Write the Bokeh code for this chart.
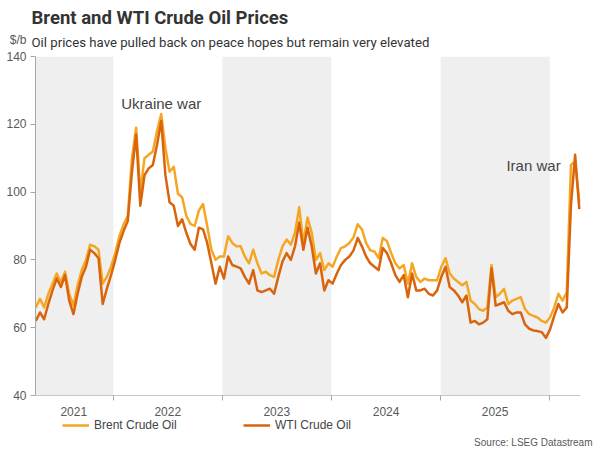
import pandas as pd
from bokeh.plotting import figure
from bokeh.models import (Range1d, FixedTicker, CustomJSTickFormatter, BoxAnnotation,
                          Label, Legend, LegendItem, Title)
from bokeh.embed import file_html
from bokeh.resources import INLINE

title_text = "Brent and WTI Crude Oil Prices"
subtitle_text = "Oil prices have pulled back on peace hopes but remain very elevated"
unit_text = "$/b"
source_text = "Source: LSEG Datastream"
series_names = ["Brent Crude Oil", "WTI Crude Oil"]

# fortnightly readings, starting mid-April 2021
brent = [66, 68.5, 66, 70, 73, 76, 73.5, 76.5, 70, 66.5,
         72.5, 77, 80, 84.5, 84, 83, 73, 75, 78, 82,
         87, 90.5, 93, 110, 119, 100, 110, 111, 112, 118,
         123, 113, 106, 107.5, 99.5, 98.5, 93, 90.6, 90, 94.5,
         96.5, 90, 83, 80, 81, 81, 87, 85, 84, 84,
         81, 79, 83, 79, 76, 76.5, 75.5, 75, 80, 84,
         86, 84.5, 88, 95.5, 85, 92.5, 88, 80, 82, 77,
         79, 78, 81, 83.5, 84, 85, 86.7, 90.5, 89, 85,
         82.8, 82.5, 80.5, 86.5, 85.5, 82, 79, 77.5, 78.5, 73,
         79, 75, 73.5, 74.5, 74, 74, 74, 78, 80.5, 76,
         74.5, 73.5, 72.5, 73.5, 68, 67, 65.5, 65, 66, 78.5,
         69, 70, 71.5, 67, 68, 68.5, 69, 65.5, 64, 63.5,
         63, 62, 61.5, 63, 66, 70, 68, 70.5, 108, 109,
         97]
wti = [62, 64.5, 62.5, 67, 71, 74.5, 72, 75.5, 68, 64,
       70, 75, 78, 83, 82, 80.5, 67, 71.5, 75.5, 80,
       85, 88.5, 91.5, 106, 117, 96, 105, 107, 108, 114,
       121, 105, 97, 96, 90, 92, 88, 84.7, 83, 89.5,
       89, 85, 79, 73, 78, 74.5, 81, 78.5, 78, 77.5,
       75, 73, 77, 71, 70.5, 71, 71.5, 70, 75, 79.5,
       82, 80, 84, 91, 83, 89.5, 84, 76, 79, 71,
       74, 73, 76, 78.5, 80, 81, 82.8, 86.5, 84, 81,
       79, 78, 77, 83.5, 82, 79, 75.5, 73.5, 75.5, 69,
       76, 71, 71, 71.5, 70, 69.5, 71, 75, 78, 72,
       71, 69.5, 67.5, 69.5, 61.5, 62, 61, 61.5, 62.5, 77.5,
       66.5, 67, 67.5, 65, 64, 64.5, 64.5, 61, 59.7, 59.2,
       59, 58.7, 57, 59.5, 63.5, 67, 64.5, 66, 96, 111,
       95]
dates = pd.date_range("2021-04-16", periods=len(brent), freq="14D")

y_ticks = [40, 60, 80, 100, 120, 140]
year_label_dates = ["2021-08-21", "2022-07-02", "2023-07-02", "2024-07-02", "2025-07-02"]
year_bounds = ["2022-01-01", "2023-01-01", "2024-01-01", "2025-01-01", "2026-01-01"]
shaded_years = [("2021-04-15", "2022-01-01"), ("2023-01-01", "2024-01-01"), ("2025-01-01", "2026-01-01")]
events = [("Ukraine war", "2022-01-27", 126.1), ("Iran war", "2025-08-09", 107.9)]


def ms(s):
    return pd.Timestamp(s).value / 1e6


# ---- page geometry (pixels) ----
W, H = 600, 449
LEFT, TOP = 35, 56            # left edge of the time axis, top of the value axis
AXIS_RIGHT = 580               # right end of the time axis
AXIS_Y = 395                   # pixel row of the value 40 line
Y_LO, Y_HI = 40, 140
x0, x1 = ms("2021-04-15"), ms("2026-04-14")

ppu = (AXIS_Y - TOP) / (Y_HI - Y_LO)            # pixels per $
msp = (x1 - x0) / (AXIS_RIGHT - LEFT)           # ms per pixel
y_start = Y_LO - (H - AXIS_Y) / ppu            # frame runs to the canvas bottom
x_end = x1 + (W - AXIS_RIGHT) * msp           # and to the canvas right edge


def px_x(px):
    return x0 + (px - LEFT) * msp


def px_y(py):
    return Y_HI - (py - TOP) / ppu


FONT = "Liberation Sans"
GREY = "#595959"

p = figure(width=W, height=H, x_axis_type="datetime",
           x_range=Range1d(x0, x_end), y_range=Range1d(y_start, Y_HI),
           output_backend="svg", toolbar_location=None, title=None,
           min_border_left=LEFT, min_border_right=0, min_border_top=TOP, min_border_bottom=0)
p.outline_line_color = None
p.xgrid.visible = False
p.ygrid.visible = False

bands = [BoxAnnotation(left=ms(a), right=ms(b), bottom=Y_LO, top=Y_HI, fill_color="#efefef",
                       fill_alpha=1.0, line_color=None, level="underlay") for a, b in shaded_years]
p.center = bands + list(p.center)

r_b = p.line(dates, brent, line_color="#F5A623", line_width=2.5, line_join="round")
r_w = p.line(dates, wti, line_color="#D9640C", line_width=2.5, line_join="round")

yax = p.yaxis[0]
yax.ticker = FixedTicker(ticks=y_ticks)
yax.bounds = (Y_LO, Y_HI)
yax.formatter = CustomJSTickFormatter(
    args=dict(unit=unit_text, top=max(y_ticks)),
    code="return tick == top ? unit + '\\n' + String(tick) + '\\n' : String(tick);")
yax.axis_line_color = "#a6a6a6"
yax.major_tick_line_color = "#a6a6a6"
yax.major_tick_out = 5
yax.major_tick_in = 0
yax.minor_tick_out = 0
yax.minor_tick_in = 0
yax.major_label_standoff = 4
yax.major_label_text_font = FONT
yax.major_label_text_font_size = "12px"
yax.major_label_text_color = GREY

xax = p.xaxis[0]
xax.fixed_location = Y_LO
xax.bounds = (x0, x1)
xax.ticker = FixedTicker(ticks=[ms(d) for d in year_label_dates],
                         minor_ticks=[ms(d) for d in year_bounds])
xax.formatter = CustomJSTickFormatter(code="return String(new Date(tick).getUTCFullYear());")
xax.major_tick_out = 0
xax.major_tick_in = 0
xax.minor_tick_out = 5
xax.minor_tick_in = 0
xax.minor_tick_line_color = "#a6a6a6"
xax.axis_line_color = "#c8c8c8"
xax.major_label_standoff = 6
xax.major_label_text_font = FONT
xax.major_label_text_font_size = "12px"
xax.major_label_text_color = GREY

legend = Legend(items=[LegendItem(label=series_names[0], renderers=[r_b]),
                       LegendItem(label=series_names[1], renderers=[r_w])],
                orientation="horizontal", location=(27, H - 432), padding=0, margin=0, spacing=0,
                glyph_width=27, glyph_height=14, label_height=14, label_width=149,
                label_standoff=5, label_text_font=FONT, label_text_font_size="12px",
                label_text_color="#444444", background_fill_alpha=0, border_line_color=None)
p.add_layout(legend)

p.add_layout(Label(x=px_x(592), y=px_y(442), text=source_text, text_font=FONT,
                   text_font_size="10px", text_color=GREY,
                   text_baseline="alphabetic", text_align="right"))

# header rows (stacked outward from the frame)
sub = Title(text=subtitle_text, align="left", offset=-4, standoff=14, text_font="Roboto",
            text_font_size="13.2px", text_font_style="normal", text_color="#333333")
ttl = Title(text=title_text, align="left", offset=-4, standoff=-6, text_font="Roboto",
            text_font_size="18.5px", text_font_style="bold", text_color="#333333")
p.add_layout(sub, "above")
p.add_layout(ttl, "above")

for txt, d, yv in events:
    p.add_layout(Label(x=ms(d), y=yv, text=txt, text_font=FONT, text_font_size="15px",
                       text_color="#444444", text_baseline="alphabetic", text_align="left"))

open("out.html", "w").write(file_html(p, INLINE))
